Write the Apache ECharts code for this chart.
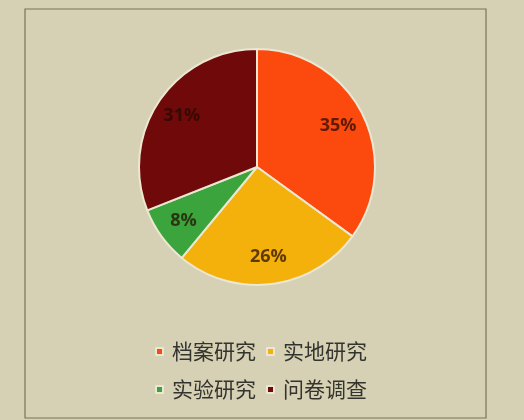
<!DOCTYPE html>
<html>
<head>
<meta charset="utf-8">
<script src="https://cdn.jsdelivr.net/npm/echarts@6/dist/echarts.min.js"></script>
<style>
  html, body { margin: 0; padding: 0; background: #d6d1b4; }
  #chart { width: 524px; height: 420px; }
</style>
</head>
<body>
<div id="chart"></div>
<script>
// Research method shares (percent)
const categories = ['档案研究', '实地研究', '实验研究', '问卷调查'];
const shares = [35, 26, 8, 31];
const sliceColors = ['#fc4a0e', '#f4b10c', '#3ba43c', '#700a0a'];

const pieData = categories.map((name, i) => ({
  name: name,
  value: shares[i],
  itemStyle: { color: sliceColors[i] }
}));

const center = [257, 167];
const fontFamily = '"Noto Sans CJK SC", "Noto Sans", sans-serif';

const legendText = {
  fontSize: 21, color: '#34342f', fontFamily: fontFamily, padding: [0, 0, 0, 4]
};

const chart = echarts.init(document.getElementById('chart'), null, { renderer: 'canvas' });

chart.setOption({
  backgroundColor: '#d6d1b4',
  animation: false,
  graphic: [{
    type: 'rect',
    shape: { x: 25, y: 9, width: 461, height: 409 },
    style: { fill: 'none', stroke: '#77745f', lineWidth: 1.2 },
    silent: true,
    z: -1
  }],
  legend: [
    {
      data: categories.slice(0, 2),
      left: 150, top: 336,
      icon: 'rect', itemWidth: 7, itemHeight: 7, itemGap: 10,
      textStyle: legendText,
      selectedMode: false
    },
    {
      data: categories.slice(2, 4),
      left: 150, top: 374,
      icon: 'rect', itemWidth: 7, itemHeight: 7, itemGap: 10,
      textStyle: legendText,
      selectedMode: false
    }
  ],
  series: [
    {
      type: 'pie',
      center: center,
      radius: [0, 118],
      startAngle: 90,
      clockwise: true,
      data: pieData,
      label: { show: false },
      labelLine: { show: false },
      itemStyle: { borderColor: '#ebe7d2', borderWidth: 2 },
      emphasis: { disabled: true }
    },
    {
      // transparent ring carrying the percentage labels further out from the centre
      type: 'pie',
      center: center,
      radius: [58, 118],
      startAngle: 90,
      clockwise: true,
      silent: true,
      data: pieData.map(d => ({ name: d.name, value: d.value, itemStyle: { color: 'rgba(0,0,0,0)' } })),
      itemStyle: { borderWidth: 0 },
      label: {
        show: true,
        position: 'inside',
        formatter: p => p.value + '%',
        fontSize: 18,
        fontWeight: 'bold',
        fontFamily: '"Open Sans", "Liberation Sans", sans-serif',
        color: 'rgba(35,10,0,0.72)'
      },
      labelLine: { show: false },
      emphasis: { disabled: true },
      legendHoverLink: false
    }
  ]
});
</script>
</body>
</html>
